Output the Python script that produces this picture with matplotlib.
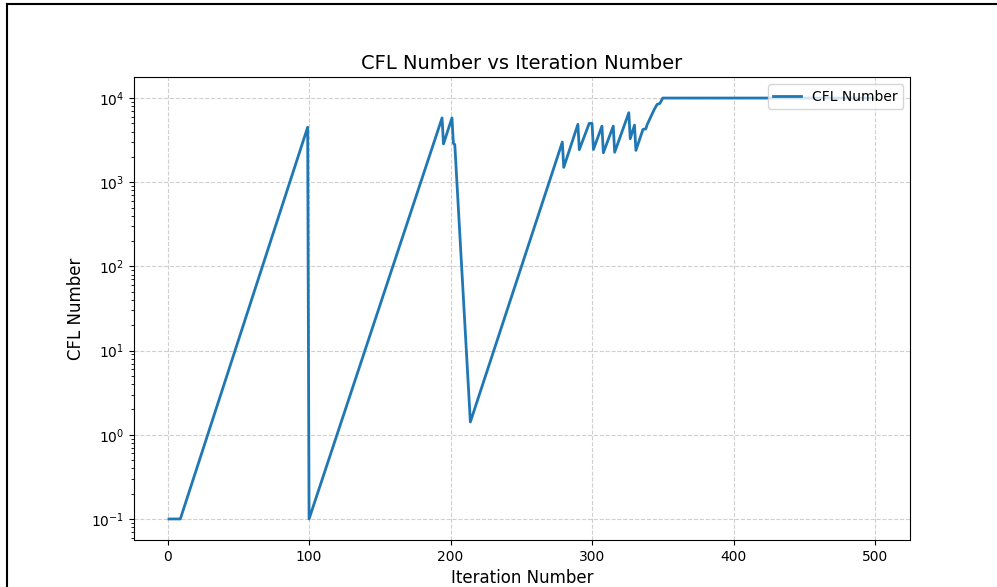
import matplotlib
matplotlib.use("Agg")
import matplotlib.pyplot as plt
from matplotlib.lines import Line2D

# corner points of the CFL history (iteration, CFL)
iterations = [1, 9, 99, 100, 194, 195, 201, 202, 203, 214,
              279, 280, 290, 291, 297, 298, 300, 301, 307, 308,
              315, 316, 326, 327, 330, 331, 336, 338, 339, 344,
              346, 348, 350, 500]
cfl_values = [0.1, 0.1, 4500, 0.1, 5800, 2850, 5800, 2900, 2800, 1.42,
              3000, 1500, 4870, 2435, 4500, 5000, 5000, 2450, 4640, 2240,
              4640, 2270, 6700, 3290, 4770, 2390, 4240, 4300, 4850, 7340,
              8400, 8650, 10000, 10000]

fig = plt.figure(figsize=(9.97, 5.87), dpi=100)
ax = fig.add_axes([133.7 / 997, 1 - 540 / 587, (910.3 - 133.7) / 997, (540 - 77) / 587])

ax.plot(iterations, cfl_values, color="#1f77b4", linewidth=2, label="CFL Number")
ax.set_yscale("log")
ax.set_xticks([0, 100, 200, 300, 400, 500])
ax.set_ylim(10 ** -1.25, 10 ** 4.25)

ax.set_title("CFL Number vs Iteration Number", fontsize=14)
ax.set_xlabel("Iteration Number", fontsize=12)
ax.set_ylabel("CFL Number", fontsize=12)
ax.grid(True, which="major", linestyle="--", color="#b0b0b0", alpha=0.6)
ax.legend(loc="upper right")

# frame round the figure (top and left edges)
fig.add_artist(Line2D([7 / 997, 7 / 997], [0, 1 - 4 / 587], transform=fig.transFigure,
                      color="black", linewidth=1.5))
fig.add_artist(Line2D([7 / 997, 1], [1 - 4 / 587, 1 - 4 / 587], transform=fig.transFigure,
                      color="black", linewidth=1.5))

fig.savefig("out.png", dpi=100)
